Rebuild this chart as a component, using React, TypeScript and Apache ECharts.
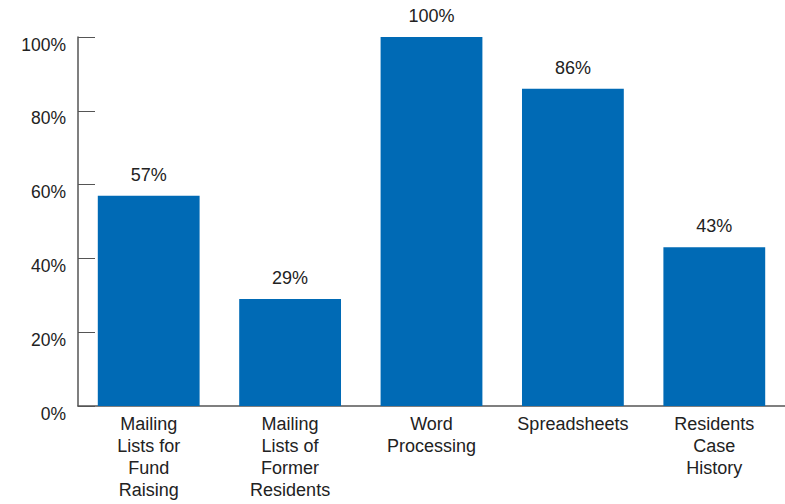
import React, { useEffect, useRef } from "react";
import * as echarts from "echarts";

const categories = [
  "Mailing\nLists for\nFund\nRaising",
  "Mailing\nLists of\nFormer\nResidents",
  "Word\nProcessing",
  "Spreadsheets",
  "Residents\nCase\nHistory",
];
const values = [57, 29, 100, 86, 43];
const yTicks = { min: 0, max: 100, interval: 20 };

export default function App() {
  const ref = useRef<HTMLDivElement>(null);
  useEffect(() => {
    const chart = echarts.init(ref.current!, null, { renderer: "svg" });
    const font = "'Liberation Sans', Arial, Helvetica, sans-serif";
    chart.setOption({
      animation: false,
      grid: { left: 78, right: 0, top: 37, bottom: 98, containLabel: false },
      xAxis: {
        type: "category",
        data: categories,
        axisLine: { lineStyle: { color: "#555", width: 1.5 } },
        axisTick: { inside: true, length: 9, alignWithLabel: false, lineStyle: { color: "#555" } },
        axisLabel: {
          color: "#222",
          fontSize: 18,
          fontFamily: font,
          lineHeight: 22,
          margin: 7,
          interval: 0,
          align: "center",
        },
      },
      yAxis: {
        type: "value",
        min: yTicks.min,
        max: yTicks.max,
        interval: yTicks.interval,
        axisLine: { show: true, lineStyle: { color: "#555", width: 1.5 } },
        axisTick: { show: true, inside: true, length: 17, lineStyle: { color: "#555" } },
        splitLine: { show: false },
        axisLabel: {
          formatter: "{value}%",
          color: "#222",
          fontSize: 17.5,
          fontFamily: font,
          margin: 12,
          verticalAlign: "top",
          lineHeight: 15,
        },
      },
      series: [
        {
          type: "bar",
          data: values,
          barCategoryGap: "28%",
          itemStyle: { color: "#006ab5" },
          label: {
            show: true,
            position: "top",
            distance: 12,
            formatter: "{c}%",
            color: "#222",
            fontSize: 18,
            fontFamily: font,
          },
        },
      ],
    });
    return () => chart.dispose();
  }, []);
  return (
    <div
      ref={ref}
      style={{ position: "absolute", left: 0, top: 0, width: 785, height: 504 }}
    />
  );
}
